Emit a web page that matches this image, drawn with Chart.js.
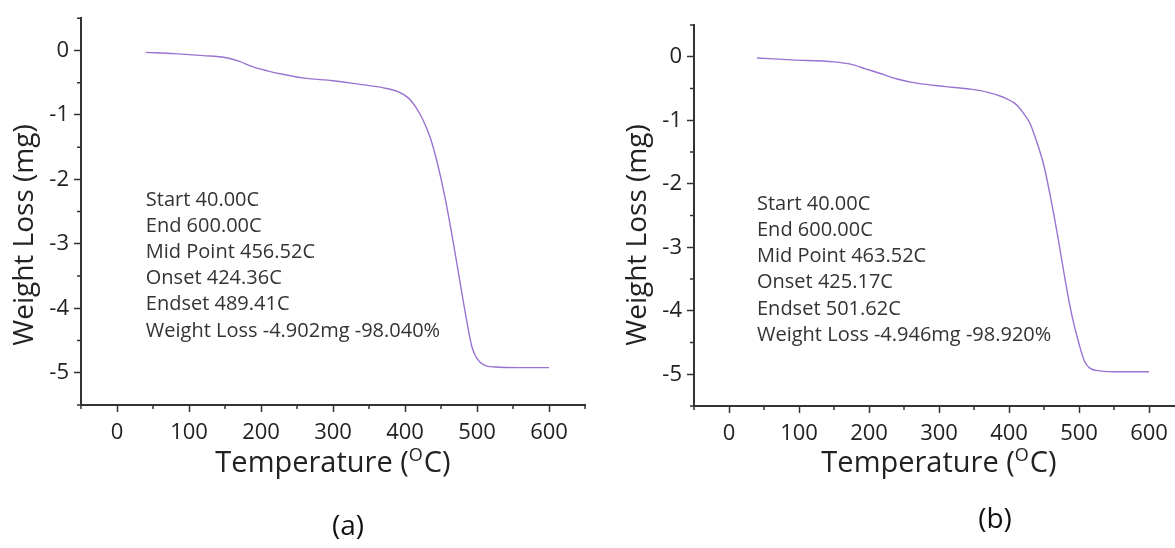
<!DOCTYPE html>
<html>
<head>
<meta charset="utf-8">
<script src="https://cdn.jsdelivr.net/npm/chart.js@4.4.1/dist/chart.umd.min.js"></script>
<style>
	html, body { margin: 0; padding: 0; background: #fff; overflow: hidden; width: 1175px; height: 548px; }
	#grafA { position: absolute; left: 0; top: 0; }
	#grafB { position: absolute; left: 613px; top: 0; }
</style>
</head>
<body>
<canvas id="grafA" width="600" height="548"></canvas>
<canvas id="grafB" width="586" height="548"></canvas>
<script>
// curva TGA muestra (a): temperatura en C, perdida en mg
const tempA = [40, 80, 120, 150, 170, 190, 210, 230, 260, 300, 340, 370, 390, 405, 415, 425, 435, 445, 455, 465, 475, 485, 493, 500, 510, 525, 560, 600]
const perdidaA = [-0.03, -0.05, -0.08, -0.11, -0.17, -0.26, -0.32, -0.37, -0.43, -0.47, -0.53, -0.58, -0.64, -0.74, -0.88, -1.08, -1.35, -1.75, -2.25, -2.85, -3.5, -4.15, -4.6, -4.78, -4.88, -4.91, -4.92, -4.92]

// curva TGA muestra (b)
const tempB = [40, 90, 150, 175, 195, 215, 240, 270, 310, 345, 370, 390, 410, 420, 430, 440, 450, 460, 470, 480, 490, 500, 508, 515, 525, 550, 600]
const perdidaB = [-0.02, -0.05, -0.08, -0.12, -0.19, -0.26, -0.35, -0.42, -0.47, -0.51, -0.56, -0.63, -0.75, -0.88, -1.05, -1.35, -1.72, -2.25, -2.85, -3.5, -4.08, -4.52, -4.8, -4.9, -4.94, -4.96, -4.96]

const infoA = ["Start 40.00C", "End 600.00C", "Mid Point 456.52C", "Onset 424.36C", "Endset 489.41C", "Weight Loss -4.902mg -98.040%"]
const infoB = ["Start 40.00C", "End 600.00C", "Mid Point 463.52C", "Onset 425.17C", "Endset 501.62C", "Weight Loss -4.946mg -98.920%"]

const xTicks = [0, 100, 200, 300, 400, 500, 600]
const xMenores = [-50, 50, 150, 250, 350, 450, 550, 650]
const yTicks = [-5, -4, -3, -2, -1, 0]
const yMenores = [-5.5, -4.5, -3.5, -2.5, -1.5, -0.5, 0.5]

const fuente = "'Open Sans', sans-serif"

// ticks menores, titulos de ejes, texto de resultados y letra del panel
const textos = {
	id: "textos",
	afterDraw(chart, args, opc) {
		const ctx = chart.ctx
		const area = chart.chartArea
		const ex = chart.scales.x
		const ye = chart.scales.y

		ctx.save()
		ctx.strokeStyle = "#333"
		ctx.lineWidth = 1.5
		ctx.beginPath()
		xMenores.forEach(v => {
			const px = ex.getPixelForValue(v)
			ctx.moveTo(px, area.bottom)
			ctx.lineTo(px, area.bottom + 4)
		})
		yMenores.forEach(v => {
			const py = ye.getPixelForValue(v)
			ctx.moveTo(area.left, py)
			ctx.lineTo(area.left - 4, py)
		})
		ctx.stroke()

		ctx.fillStyle = "#222"

		// titulo eje y
		ctx.save()
		ctx.translate(25, opc.tituloY)
		ctx.rotate(-Math.PI / 2)
		ctx.font = "28px " + fuente
		ctx.textAlign = "center"
		ctx.textBaseline = "middle"
		ctx.fillText("Weight Loss (mg)", 0, 0)
		ctx.restore()

		// titulo eje x con la O en superindice
		const grande = "29px " + fuente
		const chica = "18px " + fuente
		ctx.textBaseline = "alphabetic"
		ctx.textAlign = "left"
		ctx.font = grande
		const w1 = ctx.measureText("Temperature (").width
		const w3 = ctx.measureText("C)").width
		ctx.font = chica
		const w2 = ctx.measureText("O").width + 1
		let xt = (area.left + area.right) / 2 - (w1 + w2 + w3) / 2
		const yt = 472
		ctx.font = grande
		ctx.fillText("Temperature (", xt, yt)
		ctx.font = chica
		ctx.fillText("O", xt + w1, yt - 11)
		ctx.font = grande
		ctx.fillText("C)", xt + w1 + w2, yt)

		// resultados del analisis
		ctx.fillStyle = "#333"
		ctx.font = "20px " + fuente
		ctx.textBaseline = "middle"
		const x0 = ex.getPixelForValue(40)
		const y0 = ye.getPixelForValue(-2.32)
		opc.info.forEach((linea, i) => {
			ctx.fillText(linea, x0, y0 + i * 26.2)
		})

		// letra del panel
		ctx.fillStyle = "#111"
		ctx.font = "28px " + fuente
		ctx.textAlign = "center"
		ctx.fillText(opc.letra, opc.letraX, opc.letraY)
		ctx.restore()
	}
}

function crearGrafico(id, temps, perdidas, info, letra, letraX, letraY, arriba, abajo, tituloY) {
	return new Chart(document.getElementById(id), {
		type: "line",
		data: {
			datasets: [{
				data: temps.map((t, i) => ({x: t, y: perdidas[i]})),
				borderColor: "#9a72d2",
				borderWidth: 1.4,
				pointRadius: 0,
				fill: false,
				cubicInterpolationMode: "monotone"
			}]
		},
		options: {
			responsive: false,
			animation: false,
			layout: {padding: {top: arriba, right: 15, left: 0, bottom: 0}},
			plugins: {
				legend: {display: false},
				tooltip: {enabled: false},
				textos: {info: info, letra: letra, letraX: letraX, letraY: letraY, tituloY: tituloY}
			},
			scales: {
				x: {
					type: "linear",
					min: -50,
					max: 650,
					afterBuildTicks: escala => { escala.ticks = xTicks.map(v => ({value: v})) },
					afterFit: escala => { escala.height = abajo },
					border: {display: true, color: "#333", width: 2},
					grid: {drawOnChartArea: false, drawTicks: true, tickLength: 7, tickColor: "#333", tickWidth: 1.5},
					ticks: {color: "#222", font: {family: fuente, size: 22}, padding: 8, maxRotation: 0, autoSkip: false}
				},
				y: {
					type: "linear",
					min: -5.5,
					max: 0.5,
					afterBuildTicks: escala => { escala.ticks = yTicks.map(v => ({value: v})) },
					afterFit: escala => { escala.width = 81 },
					border: {display: true, color: "#333", width: 2},
					grid: {drawOnChartArea: false, drawTicks: true, tickLength: 7, tickColor: "#333", tickWidth: 1.5},
					ticks: {color: "#222", font: {family: fuente, size: 22}, padding: 5, autoSkip: false}
				}
			}
		},
		plugins: [textos]
	})
}

crearGrafico("grafA", tempA, perdidaA, infoA, "(a)", 348, 527, 15, 143, 235)
crearGrafico("grafB", tempB, perdidaB, infoB, "(b)", 382, 520, 25, 142, 235)
</script>
</body>
</html>
